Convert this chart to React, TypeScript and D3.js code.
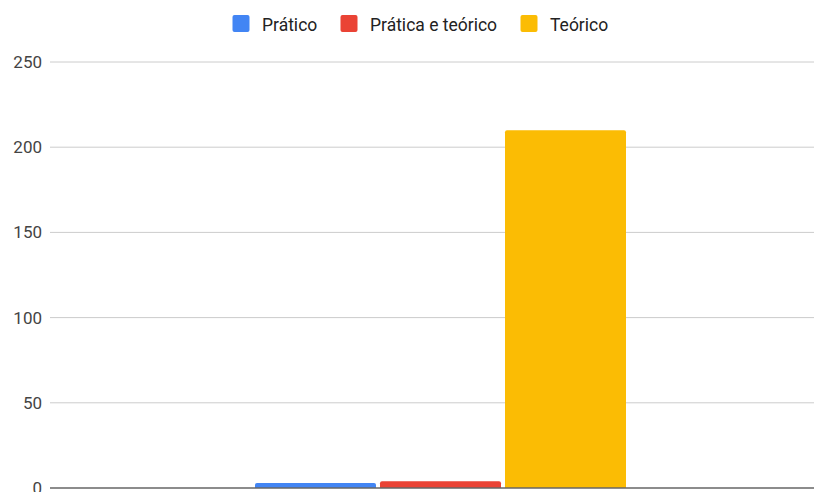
import React from "react";
import * as d3 from "d3";

const categories = [""];
const seriesNames = ["Prático", "Prática e teórico", "Teórico"];
const seriesColors = ["#4285F4", "#EA4335", "#FBBC04"];
const seriesValues = [3, 4, 210];
const yTicks = [0, 50, 100, 150, 200, 250];

const W = 814;
const H = 492;

function roundTopRect(x: number, y: number, w: number, h: number, r: number) {
  const rr = Math.min(r, h, w / 2);
  return `M${x},${y + h}V${y + rr}Q${x},${y} ${x + rr},${y}H${x + w - rr}Q${x + w},${y} ${x + w},${y + rr}V${y + h}Z`;
}

export default function App() {
  const y = d3.scaleLinear().domain([0, 250]).range([488, 62]);
  const x0 = d3.scaleBand().domain(categories).range([50, 831]).paddingOuter(0.5526).paddingInner(0);
  const x1 = d3.scaleBand().domain(seriesNames).range([0, x0.bandwidth()]).paddingInner(0.032).paddingOuter(0);

  const legendX = [232, 340, 520];

  return (
    <svg width={W} height={H} style={{ position: "absolute", left: 0, top: 0, background: "#fff" }}
      fontFamily="Roboto, Arial, sans-serif">
      {seriesNames.map((name, i) => (
        <g key={name}>
          <rect x={legendX[i] + 0.5} y={15} width={17} height={17} rx={2} fill={seriesColors[i]} />
          <text x={legendX[i] + 30} y={31} fontSize={17.5} fill="#222">{name}</text>
        </g>
      ))}
      {yTicks.map((t) => (
        <g key={t}>
          {t !== 0 && <line x1={50} x2={W} y1={y(t)} y2={y(t)} stroke="#cccccc" strokeWidth={1} />}
          <text x={42} y={y(t) + 6} fontSize={17} fill="#444" textAnchor="end">{t}</text>
        </g>
      ))}
      {categories.map((c) => (
        <g key={c} transform={`translate(${x0(c)},0)`}>
          {seriesNames.map((s, i) => {
            const bx = x1(s)!;
            const by = y(seriesValues[i]);
            return (
              <path key={s} d={roundTopRect(bx, by, x1.bandwidth(), y(0) - by, 2)} fill={seriesColors[i]} />
            );
          })}
        </g>
      ))}
      <line x1={50} x2={W} y1={y(0)} y2={y(0)} stroke="#666" strokeWidth={1.5} />
    </svg>
  );
}
